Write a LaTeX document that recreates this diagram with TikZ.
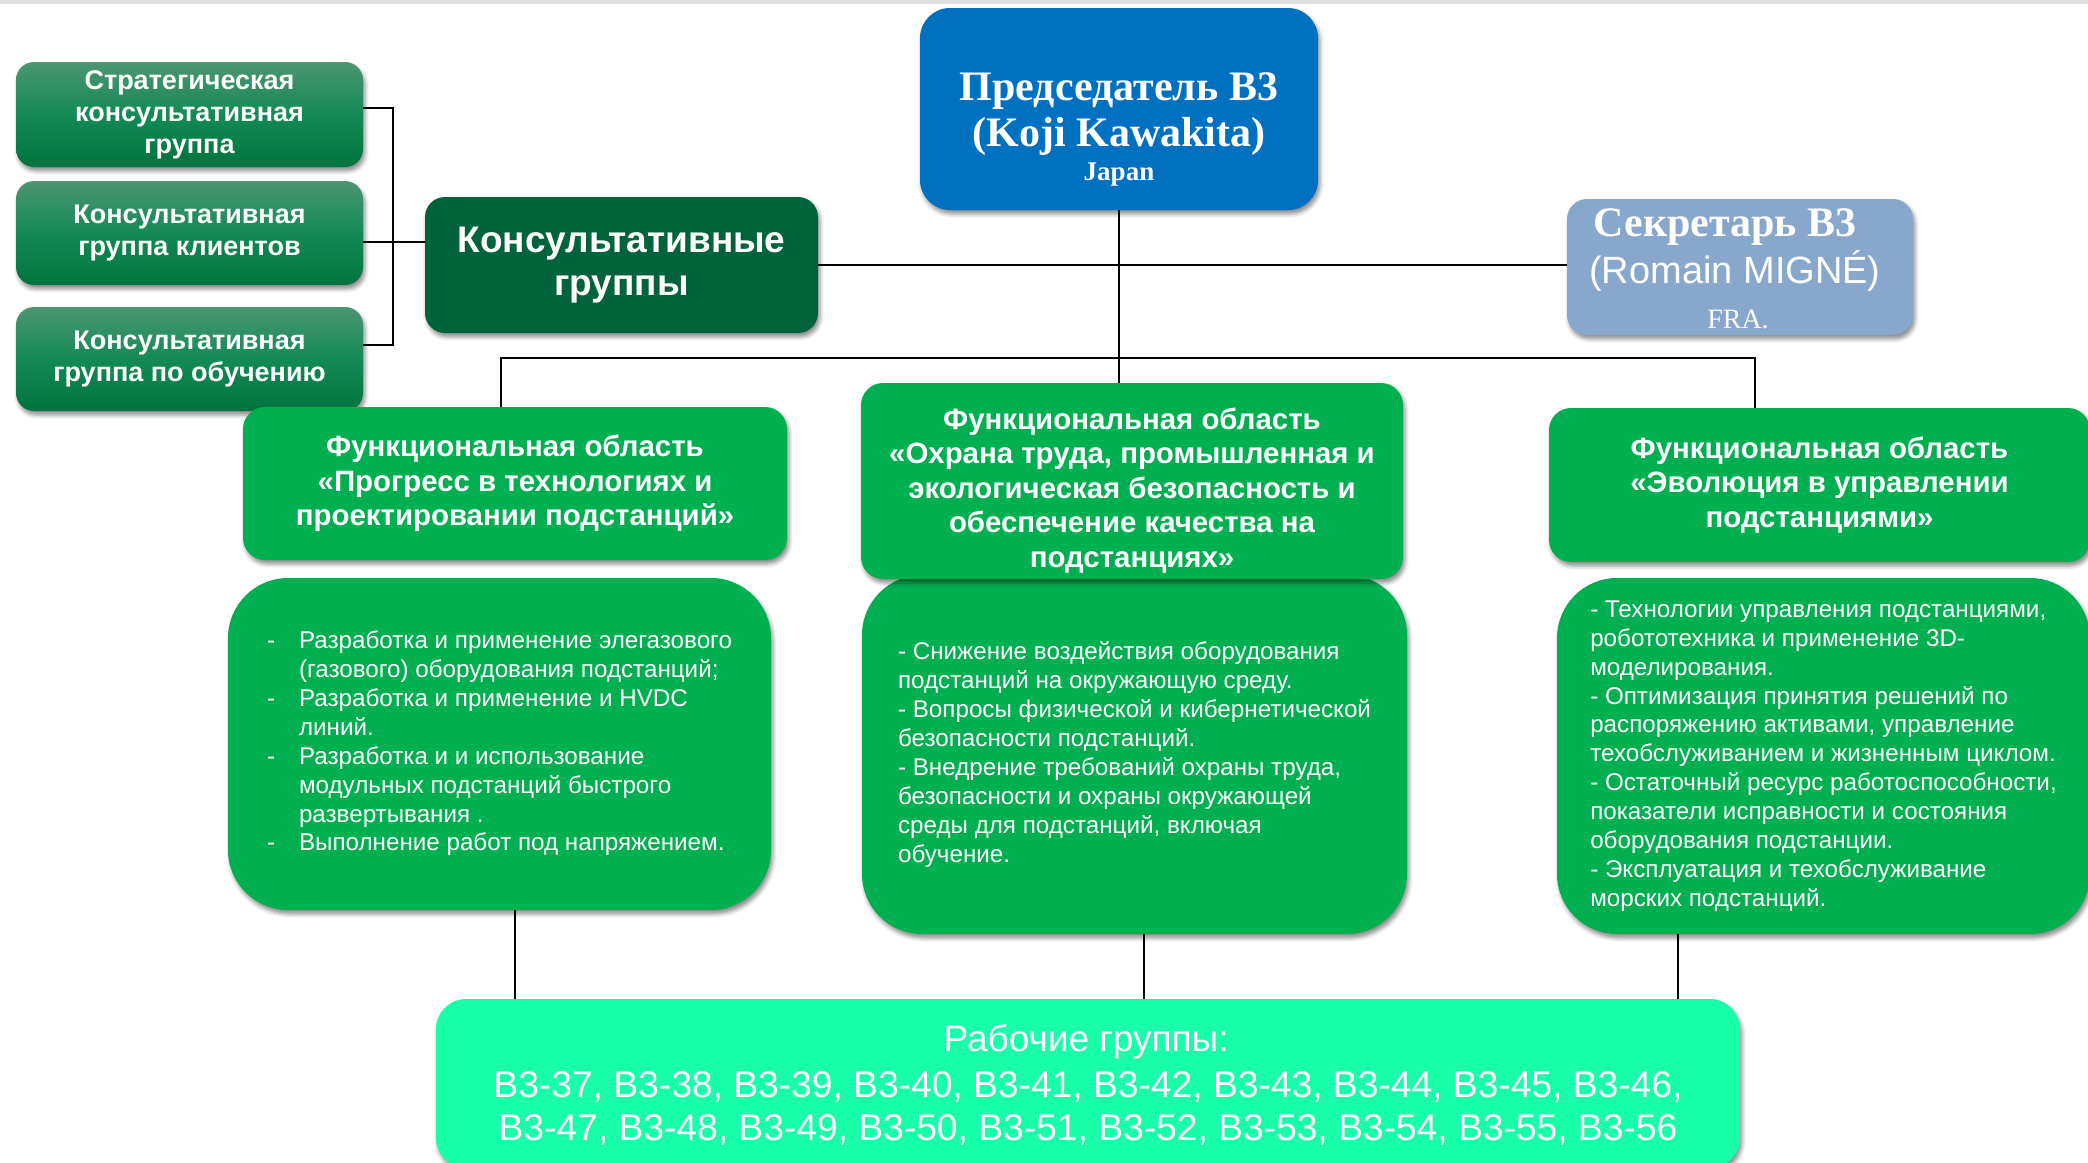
\documentclass[tikz,border=0pt]{standalone}
\usepackage{fontspec}
\setmainfont{Liberation Serif}
\newfontfamily\arialfont{Liberation Sans}
\usetikzlibrary{shadows.blur}
\definecolor{chairblue}{HTML}{0070C0}
\definecolor{secblue}{HTML}{87A7CC}
\definecolor{consdark}{HTML}{00633C}
\definecolor{smalltop}{HTML}{4C9573}
\definecolor{smallmid}{HTML}{138A56}
\definecolor{smallbot}{HTML}{00733E}
\definecolor{fagreen}{HTML}{00B050}
\definecolor{wgmint}{HTML}{19FFA9}
\definecolor{topgray}{HTML}{E2E2E2}
\begin{document}
\begin{tikzpicture}[x=1pt,y=-1pt,
  shad/.style={blur shadow={shadow xshift=2pt,shadow yshift=-4pt,shadow blur radius=4pt,shadow opacity=45}},
  basebox/.style={shad, inner sep=0pt, text=white, align=center},
  chairbox/.style={basebox, fill=chairblue, rounded corners=30pt, minimum width=398pt, minimum height=202pt},
  secbox/.style={basebox, fill=secblue, rounded corners=20pt, minimum width=346pt, minimum height=136pt},
  consbox/.style={basebox, fill=consdark, rounded corners=20pt, minimum width=393pt, minimum height=136pt,
     font=\arialfont\bfseries\fontsize{37}{43}\selectfont},
  smallbox/.style={basebox, top color=smalltop, bottom color=smallbot, middle color=smallmid, rounded corners=18pt,
     minimum width=347pt, minimum height=104pt, font=\arialfont\bfseries\fontsize{27}{32}\selectfont},
  fabox/.style={basebox, fill=fagreen, rounded corners=22pt, minimum height=153pt,
     font=\arialfont\bfseries\fontsize{29.4}{34.5}\selectfont},
  descbox/.style={basebox, fill=fagreen, rounded corners=60pt, align=left,
     font=\arialfont\fontsize{24.2}{28.9}\selectfont},
  wgbox/.style={basebox, fill=wgmint, rounded corners=30pt, minimum width=1304pt, minimum height=169pt},
  linetext/.style={text=white, inner sep=0pt, anchor=base},
  conn/.style={draw=black, line width=1.6pt},
  thickconn/.style={draw=black, line width=2.4pt}
]
\useasboundingbox (0,0) rectangle (2088,1162);
\fill[topgray] (0,0) rectangle (2088,4);

% Chairman
\node[chairbox] (chair) at (1119,109) {};
\node[linetext, font=\bfseries\fontsize{42}{46}\selectfont] (chair1) at (1119,100) {Председатель B3};
\node[linetext, font=\bfseries\fontsize{42}{46}\selectfont] (chair2) at (1119,146) {(Koji Kawakita)};
\node[linetext, font=\bfseries\fontsize{27}{30}\selectfont] (chair3) at (1119,180) {Japan};

% Secretary
\node[secbox] (sec) at (1740,267) {};
\node[linetext, font=\bfseries\fontsize{42}{46}\selectfont] (sec1) at (1725,236) {Секретарь B3};
\node[linetext, font=\arialfont\fontsize{38}{43}\selectfont] (sec2) at (1735,283) {(Romain MIGNÉ)};
\node[linetext, font=\fontsize{28}{32}\selectfont] (sec3) at (1738,328) {FRA.};

% Consultative groups
\node[consbox] (cons) at (621.5,265) {Консультативные\\группы};
\node[smallbox, minimum height=105pt] (b1) at (189.5,114.5) {Стратегическая\\консультативная\\группа};
\node[smallbox] (b2) at (189.5,233) {Консультативная\\группа клиентов};
\node[smallbox] (b3) at (189.5,359) {Консультативная\\группа по обучению};

% Description boxes
\node[descbox, minimum width=543pt, minimum height=332pt] (ld) at (499.5,744) {%
\begin{tabular}{@{}p{32pt}@{}l@{}}
- & Разработка и применение элегазового\\
  & (газового) оборудования подстанций;\\
- & Разработка и применение и HVDC\\
  & линий.\\
- & Разработка и и использование\\
  & модульных подстанций быстрого\\
  & развертывания .\\
- & Выполнение работ под напряжением.
\end{tabular}};
\node[descbox, minimum width=545pt, minimum height=359pt] (md) at (1134.5,754.5) {%
- Снижение воздействия оборудования\\
подстанций на окружающую среду.\\
- Вопросы физической и кибернетической\\
безопасности подстанций.\\
- Внедрение требований охраны труда,\\
безопасности и охраны окружающей\\
среды для подстанций, включая\\
обучение.};
\node[descbox, minimum width=533pt, minimum height=356pt] (rd) at (1823.5,756) {%
- Технологии управления подстанциями,\\
робототехника и применение 3D-\\
моделирования.\\
- Оптимизация принятия решений по\\
распоряжению активами, управление\\
техобслуживанием и жизненным циклом.\\
- Остаточный ресурс работоспособности,\\
показатели исправности и состояния\\
оборудования подстанции.\\
- Эксплуатация и техобслуживание\\
морских подстанций.};

% Functional area titles
\node[fabox, minimum width=544pt] (lfa) at (515,483.5) {Функциональная область\\«Прогресс в технологиях и\\проектировании подстанций»};
\node[fabox, minimum width=542pt, minimum height=196pt] (mfa) at (1132,481) {\rule{0pt}{40pt}Функциональная область\\«Охрана труда, промышленная и\\экологическая безопасность и\\обеспечение качества на\\подстанциях»};
\node[fabox, minimum width=541pt, minimum height=154pt] (rfa) at (1819.5,485) {Функциональная область\\«Эволюция в управлении\\подстанциями»};

% Working groups
\node[wgbox] (wg) at (1088,1083.5) {};
\node[linetext, font=\arialfont\fontsize{37}{44}\selectfont] (wg1) at (1086,1051) {Рабочие группы:};
\node[linetext, font=\arialfont\fontsize{37.2}{44}\selectfont] (wg2) at (1088,1097) {B3-37, B3-38, B3-39, B3-40, B3-41, B3-42, B3-43, B3-44, B3-45, B3-46,};
\node[linetext, font=\arialfont\fontsize{37.2}{44}\selectfont] (wg3) at (1088,1140) {B3-47, B3-48, B3-49, B3-50, B3-51, B3-52, B3-53, B3-54, B3-55, B3-56};

% Connectors
\coordinate (bx) at (393,242);
\coordinate (bar) at (1119,358);
\draw[conn] ([yshift=6.5pt]b1.east) -| (bx);
\draw[conn] ([yshift=14pt]b3.east) -| (bx);
\draw[conn] ([yshift=-9pt]b2.east) -- ([yshift=23pt]cons.west);
\draw[conn] (cons.east) -- (cons.east -| sec.west);
\draw[conn] (chair.south) -- (chair.south |- mfa.north);
\draw[thickconn] ([xshift=-14pt]lfa.north) |- (bar) -| ([xshift=-64.5pt]rfa.north);
\draw[conn] ([xshift=15.5pt]ld.south) -- ([xshift=15.5pt]ld.south |- wg.north);
\draw[conn] ([xshift=9.5pt]md.south) -- ([xshift=9.5pt]md.south |- wg.north);
\draw[conn] ([xshift=-145.5pt]rd.south) -- ([xshift=-145.5pt]rd.south |- wg.north);
\end{tikzpicture}
\end{document}
